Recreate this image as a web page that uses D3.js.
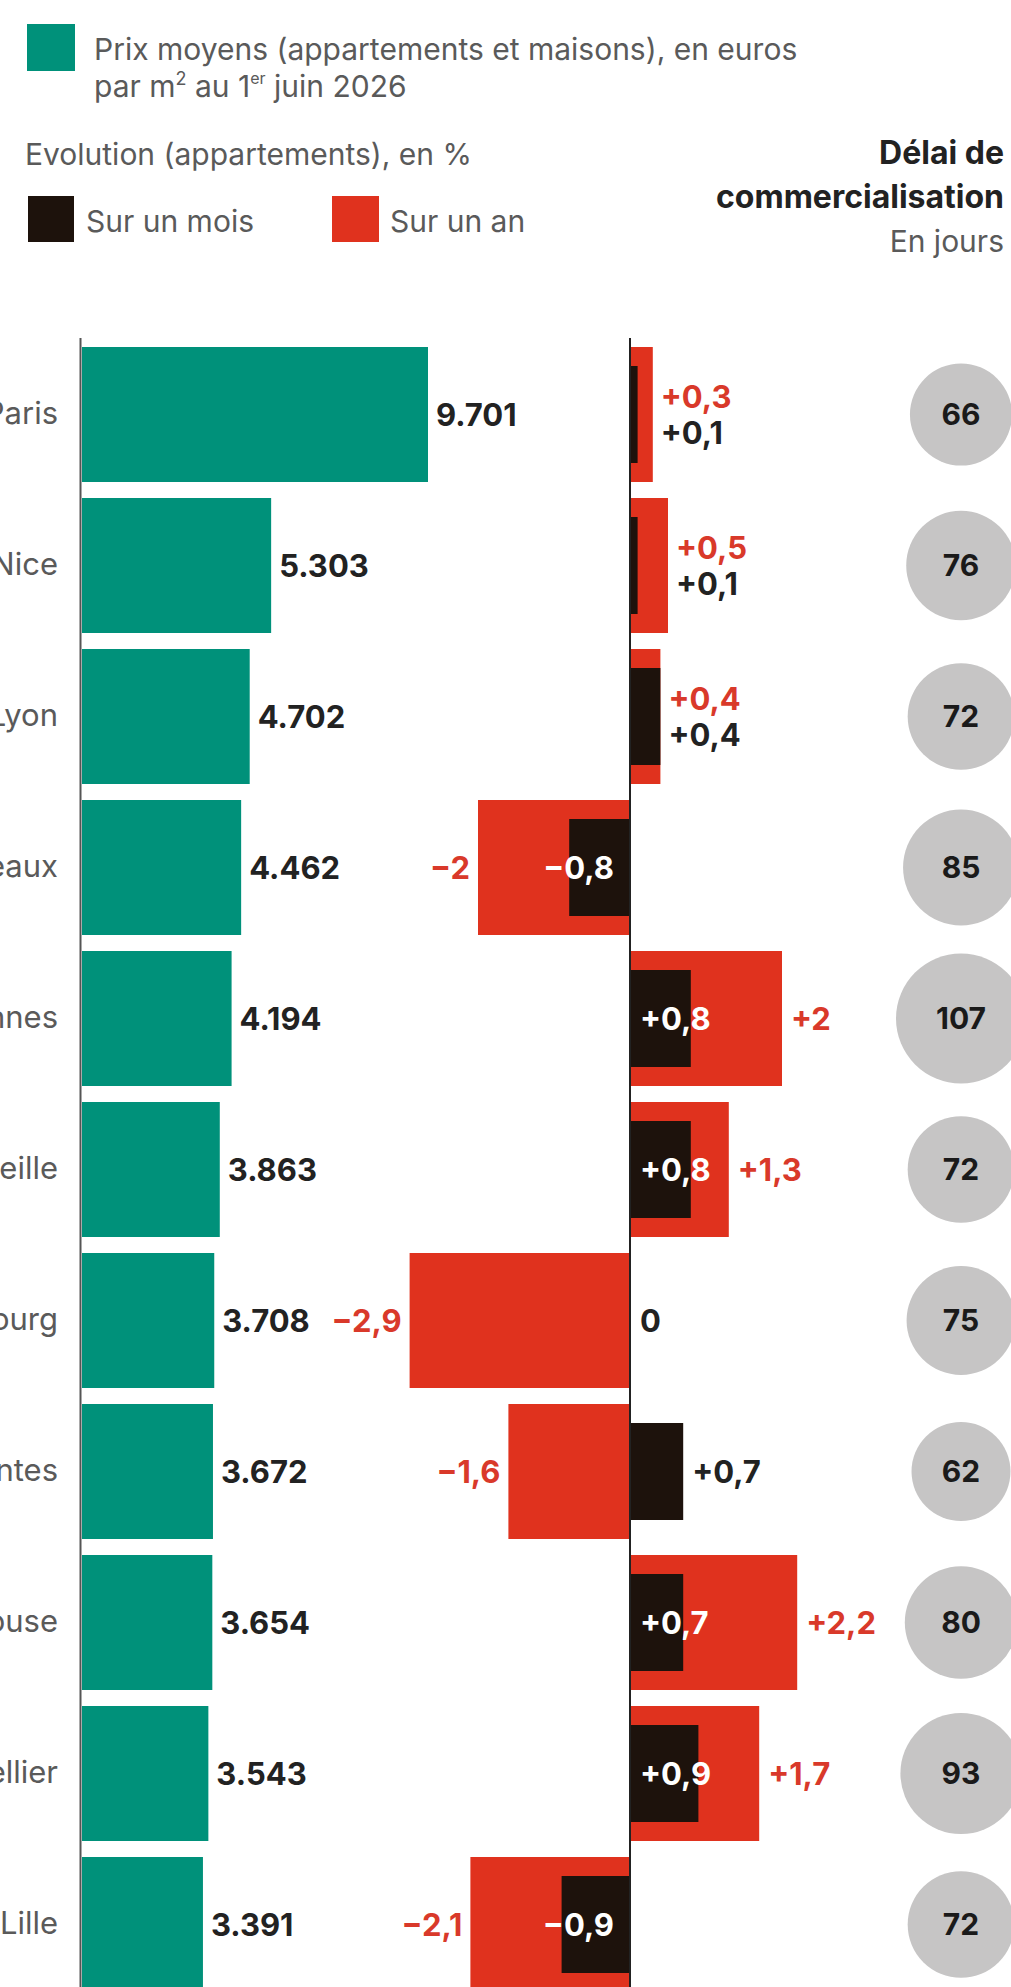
<!DOCTYPE html>
<html><head><meta charset="utf-8">
<script src="https://cdn.jsdelivr.net/npm/d3@7"></script>
<style>
body{margin:0;background:#fff;}
svg{display:block;font-family:Inter,"Noto Sans",sans-serif;}
</style>
</head><body>
<svg id="chart" width="1011" height="1987"></svg>
<script>
// ---- data ----
const cities = ["Paris","Nice","Lyon","Bordeaux","Rennes","Marseille","Strasbourg","Nantes","Toulouse","Montpellier","Lille"];
const prices = [9701,5303,4702,4462,4194,3863,3708,3672,3654,3543,3391];
const evolMonth = [0.1,0.1,0.4,-0.8,0.8,0.8,0,0.7,0.7,0.9,-0.9];
const evolYear = [0.3,0.5,0.4,-2,2,1.3,-2.9,-1.6,2.2,1.7,-2.1];
const delays = [66,76,72,85,107,72,75,62,80,93,72];

const legendPrice = ["Prix moyens (appartements et maisons), en euros", "par m² au 1"];
const legendEvol = "Evolution (appartements), en %";
const legendSeries = ["Sur un mois", "Sur un an"];
const delayTitle = ["Délai de", "commercialisation"];
const delayUnit = "En jours";

// ---- styles ----
const GREEN = "#00917a", RED = "#e0321e", BLACK = "#1d120c", GREY = "#c6c5c5";
const TXT = "#222", SOFT = "#5a5a5a", REDTXT = "#d9392a";

const rows = cities.map((c,i)=>({city:c, price:prices[i], m:evolMonth[i], y:evolYear[i], d:delays[i]}));

const svg = d3.select("#chart");
const W = 1011, H = 1987;

// ---- scales ----
const y = d3.scaleBand().domain(cities).range([347, 1992]).paddingInner(0.106).paddingOuter(0);
const xP = d3.scaleLinear().domain([0, d3.max(prices)]).range([82, 428]);
const xE = d3.scaleLinear().domain([-3, 3]).range([402, 858]);
const rD = d3.scaleSqrt().domain([0, d3.max(delays)]).range([0, 65]);

const fmtPrice = v => d3.format(",")(v).replace(/,/g, ".");
const fmtEvol = v => v === 0 ? "0" : (v > 0 ? "+" : "\u2212") + String(Math.abs(v)).replace(".", ",");

// ---- legend ----
const lg = svg.append("g");
lg.append("rect").attr("x",27).attr("y",24).attr("width",48).attr("height",47).attr("fill",GREEN);
lg.append("text").attr("x",94).attr("y",60).attr("font-size",30).attr("fill",SOFT).text(legendPrice[0]);
const t2 = lg.append("text").attr("x",94).attr("y",97).attr("font-size",30).attr("fill",SOFT);
t2.append("tspan").text("par m");
t2.append("tspan").attr("font-size",18).attr("dy",-12).text("2");
t2.append("tspan").attr("dy",12).text(" au 1");
t2.append("tspan").attr("font-size",16).attr("dy",-13).text("er");
t2.append("tspan").attr("dy",13).text(" juin 2026");

lg.append("text").attr("x",25).attr("y",165).attr("font-size",30).attr("fill",SOFT).text(legendEvol);
lg.append("rect").attr("x",28).attr("y",196).attr("width",46).attr("height",46).attr("fill",BLACK);
lg.append("text").attr("x",86).attr("y",232).attr("font-size",30).attr("fill",SOFT).text(legendSeries[0]);
lg.append("rect").attr("x",332).attr("y",196).attr("width",47).attr("height",46).attr("fill",RED);
lg.append("text").attr("x",390).attr("y",232).attr("font-size",30).attr("fill",SOFT).text(legendSeries[1]);

lg.append("text").attr("x",1004).attr("y",164).attr("text-anchor","end").attr("font-size",32).attr("font-weight",700).attr("fill",TXT).text(delayTitle[0]);
lg.append("text").attr("x",1004).attr("y",208).attr("text-anchor","end").attr("font-size",32).attr("font-weight",700).attr("fill",TXT).text(delayTitle[1]);
lg.append("text").attr("x",1004).attr("y",252).attr("text-anchor","end").attr("font-size",30).attr("fill",SOFT).text(delayUnit);

// ---- city axis (labels) ----
const axisG = svg.append("g").attr("transform",`translate(80,0)`)
  .call(d3.axisLeft(y).tickSize(0).tickPadding(22));
axisG.select(".domain").remove();
axisG.selectAll("text").attr("font-size",31).attr("fill",SOFT).attr("font-family","Inter,'Noto Sans',sans-serif");

// ---- price bars ----
svg.append("g").selectAll("rect").data(rows).join("rect")
  .attr("x", xP(0)).attr("y", d=>y(d.city))
  .attr("width", d=>xP(d.price)-xP(0)).attr("height", y.bandwidth())
  .attr("fill", GREEN);
svg.append("g").selectAll("text").data(rows).join("text")
  .attr("x", d=>xP(d.price)+8).attr("y", d=>y(d.city)+y.bandwidth()/2).attr("dy","0.36em")
  .attr("font-size",31).attr("font-weight",700).attr("fill",TXT)
  .text(d=>fmtPrice(d.price));

svg.append("line").attr("x1",80.5).attr("x2",80.5).attr("y1",338).attr("y2",H)
  .attr("stroke","#555").attr("stroke-width",2);

// ---- evolution bars ----
const inset = 19;
svg.append("g").selectAll("rect").data(rows).join("rect")
  .attr("x", d=>Math.min(xE(0), xE(d.y))).attr("y", d=>y(d.city))
  .attr("width", d=>Math.abs(xE(d.y)-xE(0))).attr("height", y.bandwidth())
  .attr("fill", RED);
svg.append("g").selectAll("rect").data(rows).join("rect")
  .attr("x", d=>Math.min(xE(0), xE(d.m))).attr("y", d=>y(d.city)+inset)
  .attr("width", d=>Math.abs(xE(d.m)-xE(0))).attr("height", y.bandwidth()-2*inset)
  .attr("fill", BLACK);

svg.append("line").attr("x1",xE(0)).attr("x2",xE(0)).attr("y1",338).attr("y2",H)
  .attr("stroke","#222").attr("stroke-width",2);

// labels
const evG = svg.append("g").attr("font-size",31).attr("font-weight",700);
rows.forEach(d=>{
  const cy = y(d.city)+y.bandwidth()/2;
  const same = d.m !== 0 && Math.sign(d.m) === Math.sign(d.y);
  if (same && Math.abs(d.m) < 0.5) {
    const s = Math.sign(d.y);
    const edge = s > 0 ? Math.max(xE(d.y), xE(d.m)) + 8 : Math.min(xE(d.y), xE(d.m)) - 8;
    const anchor = s > 0 ? "start" : "end";
    evG.append("text").attr("x",edge).attr("y",cy-18).attr("dy","0.36em").attr("text-anchor",anchor).attr("fill",REDTXT).text(fmtEvol(d.y));
    evG.append("text").attr("x",edge).attr("y",cy+18).attr("dy","0.36em").attr("text-anchor",anchor).attr("fill",TXT).text(fmtEvol(d.m));
    return;
  }
  const yx = d.y >= 0 ? xE(d.y) + 9 : xE(d.y) - 8;
  evG.append("text").attr("x",yx).attr("y",cy).attr("dy","0.36em")
    .attr("text-anchor", d.y >= 0 ? "start" : "end").attr("fill",REDTXT).text(fmtEvol(d.y));
  if (d.m === 0) {
    evG.append("text").attr("x",xE(0)+10).attr("y",cy).attr("dy","0.36em").attr("fill",TXT).text(fmtEvol(d.m));
  } else if (!same) {
    const mx = d.m > 0 ? xE(d.m) + 9 : xE(d.m) - 9;
    evG.append("text").attr("x",mx).attr("y",cy).attr("dy","0.36em")
      .attr("text-anchor", d.m > 0 ? "start" : "end").attr("fill",TXT).text(fmtEvol(d.m));
  } else {
    const mx = d.m > 0 ? xE(0) + 10 : xE(0) - 16;
    evG.append("text").attr("x",mx).attr("y",cy).attr("dy","0.36em")
      .attr("text-anchor", d.m > 0 ? "start" : "end").attr("fill","#fff").text(fmtEvol(d.m));
  }
});

// ---- delay circles ----
const cg = svg.append("g").selectAll("g").data(rows).join("g")
  .attr("transform", d=>`translate(961,${y(d.city)+y.bandwidth()/2})`);
cg.append("circle").attr("r", d=>rD(d.d)).attr("fill", GREY);
cg.append("text").attr("text-anchor","middle").attr("dy","0.36em")
  .attr("font-size",30).attr("font-weight",700).attr("fill","#1a1a1a").text(d=>d.d);
</script>
</body></html>
